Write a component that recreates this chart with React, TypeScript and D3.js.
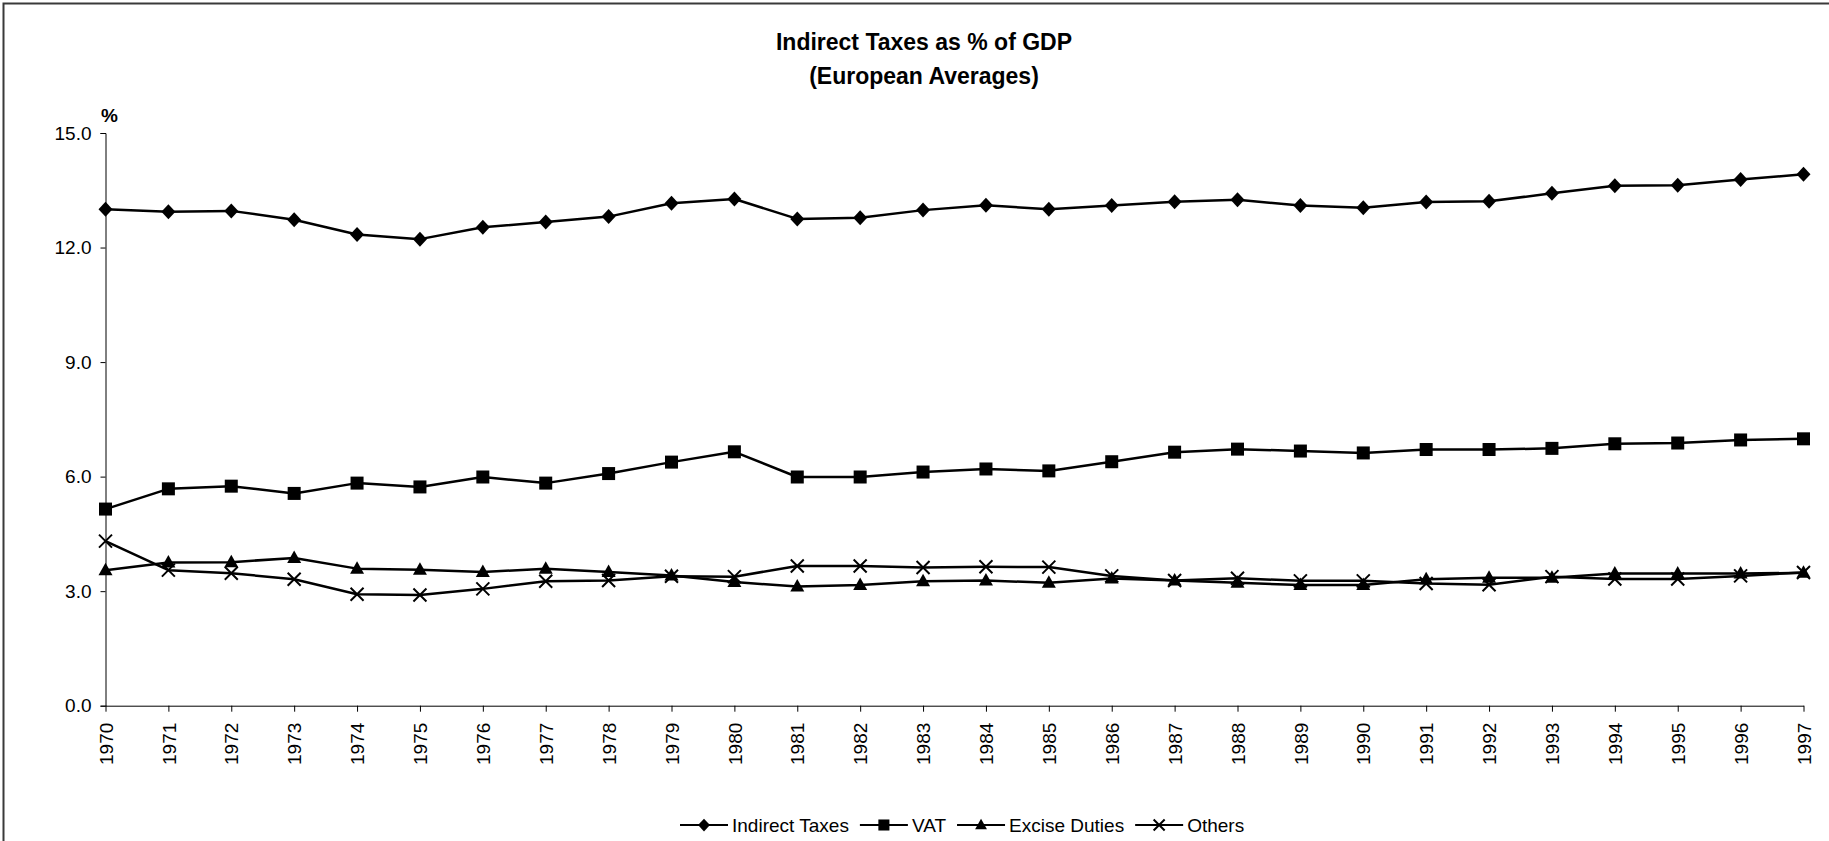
import React, { useEffect, useRef } from 'react';
import * as d3 from 'd3';

const years = ['1970','1971','1972','1973','1974','1975','1976','1977','1978','1979','1980','1981','1982','1983','1984','1985','1986','1987','1988','1989','1990','1991','1992','1993','1994','1995','1996','1997'];
const indirectTaxes = [13.00,12.94,12.96,12.73,12.34,12.22,12.53,12.67,12.81,13.16,13.27,12.75,12.78,12.98,13.11,13.00,13.10,13.20,13.25,13.10,13.04,13.19,13.21,13.42,13.62,13.63,13.78,13.92];
const vat = [5.15,5.68,5.75,5.56,5.83,5.73,5.99,5.83,6.08,6.38,6.65,5.99,5.99,6.12,6.20,6.15,6.39,6.64,6.72,6.67,6.62,6.71,6.71,6.74,6.86,6.88,6.96,6.99];
const exciseDuties = [3.55,3.75,3.76,3.87,3.59,3.56,3.50,3.59,3.50,3.41,3.24,3.12,3.16,3.26,3.28,3.22,3.33,3.28,3.22,3.16,3.16,3.31,3.35,3.35,3.46,3.46,3.46,3.48];
const others = [4.31,3.55,3.47,3.31,2.92,2.90,3.06,3.26,3.28,3.39,3.38,3.66,3.66,3.62,3.64,3.63,3.40,3.28,3.34,3.27,3.27,3.20,3.17,3.38,3.32,3.32,3.40,3.49];
const yTicks = [0, 3, 6, 9, 12, 15];
const seriesNames = ['Indirect Taxes', 'VAT', 'Excise Duties', 'Others'];
const seriesMarkers = ['diamond', 'square', 'triangle', 'x'];

const W = 1829;
const H = 841;
const FONT = '"Liberation Sans", Arial, sans-serif';

function drawMarker(g: any, type: string, cx: number, cy: number, s = 1) {
  if (type === 'diamond') {
    g.append('path')
      .attr('d', `M${cx},${cy - 7.5 * s} L${cx + 7 * s},${cy} L${cx},${cy + 7.5 * s} L${cx - 7 * s},${cy} Z`)
      .attr('fill', '#000');
  } else if (type === 'square') {
    g.append('rect')
      .attr('x', cx - 6.5 * s).attr('y', cy - 6.5 * s)
      .attr('width', 13 * s).attr('height', 13 * s)
      .attr('fill', '#000');
  } else if (type === 'triangle') {
    g.append('path')
      .attr('d', `M${cx},${cy - 7.5 * s} L${cx + 7 * s},${cy + 5 * s} L${cx - 7 * s},${cy + 5 * s} Z`)
      .attr('fill', '#000');
  } else {
    g.append('path')
      .attr('d', `M${cx - 6.5 * s},${cy - 6.5 * s} L${cx + 6.5 * s},${cy + 6.5 * s} M${cx + 6.5 * s},${cy - 6.5 * s} L${cx - 6.5 * s},${cy + 6.5 * s}`)
      .attr('stroke', '#000').attr('stroke-width', 2).attr('fill', 'none');
  }
}

export default function App() {
  const ref = useRef<SVGSVGElement>(null);

  useEffect(() => {
    const svg = d3.select(ref.current);
    svg.selectAll('*').remove();

    const x = d3.scalePoint<string>().domain(years).range([105.5, 1803.5]);
    const y = d3.scaleLinear().domain([0, 15]).range([705.7, 133]);

    // frame
    svg.append('rect')
      .attr('x', 3.5).attr('y', 3.5)
      .attr('width', W + 20).attr('height', H + 20)
      .attr('fill', 'none').attr('stroke', '#3a3a3a').attr('stroke-width', 2);

    // title
    const title = svg.append('text')
      .attr('x', 924).attr('font-family', FONT).attr('font-weight', 'bold')
      .attr('font-size', 23).attr('text-anchor', 'middle').attr('fill', '#000');
    title.append('tspan').attr('x', 924).attr('y', 49.5).text('Indirect Taxes as % of GDP');
    title.append('tspan').attr('x', 924).attr('y', 84).text('(European Averages)');

    // % label
    svg.append('text')
      .attr('x', 101).attr('y', 122)
      .attr('font-family', FONT).attr('font-weight', 'bold').attr('font-size', 19)
      .text('%');

    // y axis
    const yAxis = d3.axisLeft(y).tickValues(yTicks).tickSize(5).tickPadding(9)
      .tickFormat((d: any) => d3.format('.1f')(d));
    const gy = svg.append('g').attr('transform', 'translate(105.5,0)').call(yAxis as any);
    gy.selectAll('text').attr('font-family', FONT).attr('font-size', 19).attr('fill', '#000');
    gy.selectAll('line,path').attr('stroke', '#000');

    // x axis
    const xAxis = d3.axisBottom(x).tickSize(6).tickSizeOuter(0);
    const gx = svg.append('g').attr('transform', 'translate(0,705.7)').call(xAxis as any);
    gx.selectAll('line,path').attr('stroke', '#000');
    gx.selectAll('text')
      .attr('font-family', FONT).attr('font-size', 19).attr('fill', '#000')
      .attr('transform', 'rotate(-90)')
      .attr('text-anchor', 'end')
      .attr('x', -17).attr('y', 0).attr('dy', '0.35em');

    // series
    const allSeries = [indirectTaxes, vat, exciseDuties, others];
    const line = d3.line<number>().x((_, i) => x(years[i]) as number).y((d) => y(d));
    allSeries.forEach((vals) => {
      svg.append('path').datum(vals).attr('d', line as any)
        .attr('fill', 'none').attr('stroke', '#000').attr('stroke-width', 2.5)
        .attr('stroke-linejoin', 'round');
    });
    allSeries.forEach((vals, si) => {
      const g = svg.append('g');
      vals.forEach((v, i) => drawMarker(g, seriesMarkers[si], x(years[i]) as number, y(v)));
    });

    // legend
    const lg = svg.append('g');
    let lx = 680;
    const ly = 825;
    seriesNames.forEach((name, si) => {
      lg.append('line').attr('x1', lx).attr('x2', lx + 48).attr('y1', ly).attr('y2', ly)
        .attr('stroke', '#000').attr('stroke-width', 2);
      drawMarker(lg, seriesMarkers[si], lx + 24, ly, 0.85);
      const t = lg.append('text').attr('x', lx + 52).attr('y', ly).attr('dy', '0.35em')
        .attr('font-family', FONT).attr('font-size', 19).attr('fill', '#000').text(name);
      const w = (t.node() as SVGTextElement).getComputedTextLength();
      lx = lx + 52 + w + 11;
    });
  }, []);

  return (
    <svg ref={ref} width={W} height={H}
      style={{ position: 'absolute', left: 0, top: 0, display: 'block', background: '#fff' }} />
  );
}
